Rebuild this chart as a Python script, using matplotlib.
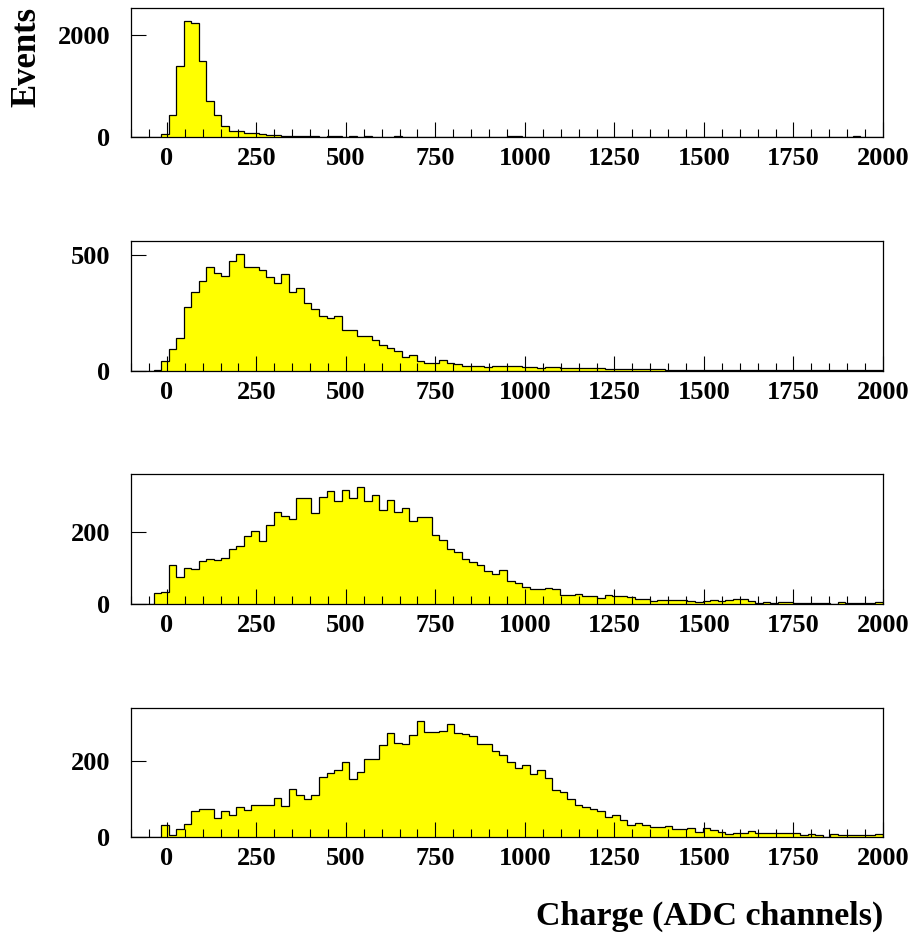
import numpy as np
import matplotlib
matplotlib.use("Agg")
import matplotlib.pyplot as plt
from matplotlib.ticker import MultipleLocator, FixedLocator

# 100 bins from -100 to 2000 (width 21)
x_min, x_max, n_bins = -100, 2000, 100

panel1 = [0, 0, 0, 5, 65, 424, 1394, 2274, 2235, 1480,
          710, 424, 215, 124, 124, 78, 78, 52, 33, 33,
          13, 13, 20, 20, 13, 7, 13, 20, 7, 10,
          7, 13, 7, 7, 7, 10, 7, 3, 3, 7,
          3, 7, 7, 3, 3, 7, 3, 3, 3, 3,
          13, 20, 3, 3, 3, 3, 3, 0, 3, 3,
          3, 3, 3, 3, 0, 3, 3, 3, 0, 3,
          3, 3, 3, 0, 3, 3, 0, 3, 3, 3,
          0, 3, 3, 3, 0, 3, 3, 0, 3, 3,
          3, 0, 3, 3, 3, 3, 13, 7, 3, 3]

panel2 = [0, 0, 0, 6, 43, 95, 143, 276, 341, 390,
          451, 425, 412, 477, 504, 448, 451, 438, 405, 382,
          418, 343, 360, 295, 267, 237, 227, 238, 179, 176,
          150, 152, 132, 113, 98, 87, 62, 68, 42, 36,
          36, 46, 35, 30, 23, 23, 22, 19, 20, 23,
          20, 20, 17, 16, 14, 16, 17, 14, 13, 12,
          12, 13, 12, 9, 10, 10, 7, 9, 9, 10,
          9, 6, 4, 4, 4, 4, 6, 4, 6, 4,
          4, 6, 6, 6, 3, 3, 4, 3, 3, 4,
          3, 3, 3, 4, 3, 3, 3, 3, 6, 4]

panel3 = [0, 0, 0, 30, 34, 108, 74, 99, 98, 118,
          125, 121, 127, 151, 160, 189, 201, 175, 219, 253,
          244, 234, 292, 294, 251, 295, 312, 285, 316, 292,
          323, 284, 300, 259, 287, 254, 266, 230, 241, 239,
          191, 177, 152, 144, 124, 116, 107, 91, 83, 95,
          64, 59, 47, 42, 41, 44, 41, 24, 24, 27,
          22, 22, 17, 24, 21, 21, 19, 15, 15, 7,
          12, 10, 10, 10, 7, 6, 9, 10, 7, 10,
          13, 13, 7, 4, 5, 4, 6, 6, 2, 2,
          4, 4, 2, 1, 6, 2, 2, 2, 2, 5]

panel4 = [0, 0, 0, 0, 33, 6, 22, 35, 68, 73,
          75, 49, 68, 58, 80, 71, 85, 85, 85, 104,
          83, 126, 110, 100, 112, 159, 170, 176, 199, 154,
          173, 205, 205, 242, 274, 248, 245, 269, 306, 277,
          277, 281, 299, 276, 271, 268, 247, 245, 228, 216,
          198, 182, 191, 166, 176, 155, 124, 120, 100, 85,
          78, 73, 69, 52, 59, 44, 33, 38, 33, 26,
          26, 29, 22, 20, 23, 12, 23, 19, 13, 7,
          11, 11, 16, 10, 10, 10, 11, 11, 11, 6,
          9, 5, 1, 9, 5, 6, 6, 4, 6, 9]

panels = [panel1, panel2, panel3, panel4]
y_tops = [2520, 562, 359, 341]
y_ticks = [[0, 2000], [0, 500], [0, 200], [0, 200]]
x_major = [0, 250, 500, 750, 1000, 1250, 1500, 1750, 2000]

FONT = "Liberation Serif"
W, H = 917, 938
fig = plt.figure(figsize=(W / 100, H / 100), dpi=100)

# axes boxes in pixels: (top, bottom)
boxes = [(8, 137), (241, 371), (474, 604), (708, 837)]
left_px, right_px = 131, 883

edges = np.linspace(x_min, x_max, n_bins + 1)

for vals, ytop, yt, (t, b) in zip(panels, y_tops, y_ticks, boxes):
    ax = fig.add_axes([left_px / W, 1 - b / H, (right_px - left_px) / W, (b - t) / H])
    vals = np.asarray(vals, dtype=float)
    ax.stairs(vals, edges, fill=True, color="#ffff00", linewidth=0)
    ax.stairs(vals, edges, fill=False, color="black", linewidth=0.9, baseline=0)
    ax.set_xlim(x_min, x_max)
    ax.set_ylim(0, ytop)
    ax.xaxis.set_major_locator(FixedLocator(x_major))
    ax.xaxis.set_minor_locator(MultipleLocator(50))
    ax.set_yticks(yt)
    ax.tick_params(axis="x", which="major", direction="in", length=11, width=0.8,
                   pad=7, top=False)
    ax.tick_params(axis="x", which="minor", direction="in", length=5.5, width=0.8,
                   top=False)
    ax.tick_params(axis="y", which="major", direction="in", length=11, width=0.8,
                   pad=15, right=False)
    for lab in ax.get_xticklabels() + ax.get_yticklabels():
        lab.set_fontfamily(FONT)
        lab.set_fontweight("bold")
        lab.set_fontsize(19)
    for s in ax.spines.values():
        s.set_linewidth(0.9)
        s.set_color("black")

fig.text(27 / W, 1 - 7 / H, "Events", rotation=90, ha="center", va="top",
         fontfamily=FONT, fontweight="bold", fontsize=25)
fig.text(883 / W, 1 - 925 / H, "Charge (ADC channels)", ha="right", va="baseline",
         fontfamily=FONT, fontweight="bold", fontsize=24.5)

fig.savefig("out.png", dpi=100)
